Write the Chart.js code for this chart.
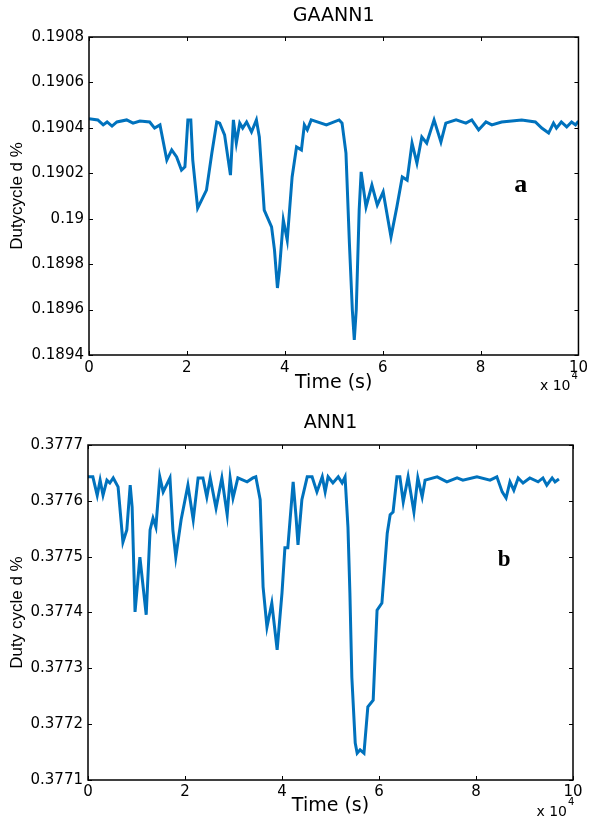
<!DOCTYPE html>
<html><head><meta charset="utf-8">
<script src="https://cdn.jsdelivr.net/npm/chart.js@4.4.0/dist/chart.umd.min.js"></script>
<style>
html,body{margin:0;padding:0;background:#fff;}
#wrap{position:relative;width:592px;height:825px;}
.c{position:absolute;left:0;width:592px;}
</style></head><body>
<div id="wrap">
<div class="c" style="top:0;height:400px"><canvas id="ca"></canvas></div>
<div class="c" style="top:400px;height:425px"><canvas id="cb"></canvas></div>
</div>
<script>
// ---- Data (time in s, duty cycle) ----
const timeA = [0,1800,2900,3700,4700,5700,7700,9000,10400,12400,13400,14500,15900,16900,17900,18900,19600,20200,20800,21200,22200,23200,24000,25100,26100,26700,27700,28900,29500,30100,30800,31400,32200,33200,34200,34800,35800,37300,37900,38500,38900,39700,40500,41500,42400,43400,44000,44600,45400,48500,51100,51700,52500,53200,53800,54200,54600,55200,55600,56600,57800,58900,60100,61700,62900,64000,65000,66000,67000,68000,69000,70500,71900,72900,75000,77000,78200,79600,81100,82300,84300,88400,91200,92500,93900,94900,95500,96500,97600,98600,99400,100000];
const dutyA = [0.19044,0.190435,0.190413,0.190426,0.190408,0.190426,0.190435,0.190421,0.19043,0.190426,0.190399,0.190413,0.190258,0.190303,0.190272,0.190214,0.190228,0.190435,0.190435,0.190258,0.190047,0.190091,0.190126,0.190289,0.190426,0.190421,0.190369,0.190192,0.190435,0.190333,0.190421,0.190399,0.190426,0.190382,0.190435,0.19036,0.190038,0.189964,0.189862,0.189695,0.189774,0.189994,0.189906,0.190184,0.190316,0.190303,0.190413,0.190391,0.190435,0.190413,0.190435,0.190421,0.190289,0.189893,0.189598,0.189466,0.189598,0.190038,0.190206,0.190052,0.190148,0.19006,0.190118,0.18992,0.190052,0.190184,0.19017,0.190333,0.190245,0.19036,0.190333,0.190435,0.190338,0.190421,0.190435,0.190421,0.190435,0.190391,0.190426,0.190413,0.190426,0.190435,0.190426,0.190399,0.190377,0.190421,0.190399,0.190426,0.190404,0.190426,0.190413,0.19043];

const timeB = [0,1000,1900,2500,3100,3900,4500,5200,6200,7200,8000,8700,9100,9700,10700,12000,12800,13400,14000,14800,15500,16900,17500,18100,19200,20600,21700,22700,23700,24500,25200,26400,27600,28700,29300,29900,30900,32800,34000,34600,35500,36100,36900,37900,39000,40000,40600,41200,42300,42900,43300,44100,45200,46200,47200,48300,48900,49500,50500,51600,52400,53000,53600,54000,54400,55100,55500,56100,56900,57700,58800,59600,60600,61700,62300,62900,63700,64300,65000,66000,67200,68000,68900,69500,72000,74000,76100,77300,80200,82900,84300,85400,86200,87000,87800,88700,89700,91100,92800,93800,94600,95700,96300,97100];
const dutyB = [0.377643,0.377643,0.37761,0.377637,0.37761,0.377637,0.377632,0.377641,0.377625,0.377526,0.377548,0.377628,0.377589,0.377401,0.377499,0.377396,0.377548,0.377569,0.377553,0.377643,0.377616,0.377641,0.377548,0.377499,0.377566,0.377628,0.377566,0.377641,0.377641,0.377607,0.377641,0.377587,0.377641,0.377575,0.377641,0.377605,0.377641,0.377634,0.377641,0.377643,0.377602,0.377446,0.377374,0.377417,0.377333,0.377435,0.377516,0.377516,0.377634,0.377571,0.377521,0.377602,0.377643,0.377643,0.377616,0.377643,0.377616,0.377643,0.377632,0.377643,0.377632,0.377643,0.377553,0.377435,0.377284,0.377166,0.377148,0.377154,0.377148,0.377231,0.377243,0.377404,0.377417,0.377542,0.377575,0.37758,0.377643,0.377643,0.377598,0.377643,0.37758,0.377641,0.377607,0.377637,0.377643,0.377634,0.377641,0.377637,0.377643,0.377637,0.377643,0.377616,0.377605,0.377634,0.377619,0.377641,0.377632,0.377641,0.377634,0.377641,0.377628,0.377641,0.377634,0.377639];

const xTicks = [0, 20000, 40000, 60000, 80000, 100000];
const yTicksA = [0.1894, 0.1896, 0.1898, 0.19, 0.1902, 0.1904, 0.1906, 0.1908];
const yTicksB = [0.3771, 0.3772, 0.3773, 0.3774, 0.3775, 0.3776, 0.3777];

const LINE_COLOR = '#0072BD';

function framePlugin(cfg) {
  return {
    id: 'frame_' + cfg.letter,
    afterDatasetsDraw(chart) {
      const ctx = chart.ctx, a = chart.chartArea, x = chart.scales.x, y = chart.scales.y;
      ctx.save();
      ctx.strokeStyle = '#000';
      ctx.lineWidth = 1.5;
      ctx.strokeRect(a.left, a.top, a.right - a.left, a.bottom - a.top);
      ctx.lineWidth = 1;
      const L = 4;
      ctx.beginPath();
      x.ticks.forEach(t => {
        const px = Math.round(x.getPixelForValue(t.value)) + 0.5;
        ctx.moveTo(px, a.bottom); ctx.lineTo(px, a.bottom - L);
        ctx.moveTo(px, a.top); ctx.lineTo(px, a.top + L);
      });
      y.ticks.forEach(t => {
        const py = Math.round(y.getPixelForValue(t.value)) + 0.5;
        ctx.moveTo(a.left, py); ctx.lineTo(a.left + L, py);
        ctx.moveTo(a.right, py); ctx.lineTo(a.right - L, py);
      });
      ctx.stroke();
      ctx.fillStyle = '#000';
      // title
      ctx.font = '19px "DejaVu Sans"';
      ctx.textAlign = 'center';
      ctx.textBaseline = 'middle';
      ctx.fillText(cfg.title, (a.left + a.right) / 2, cfg.titleY);
      // x 10^4 multiplier
      ctx.font = '14px "DejaVu Sans"';
      ctx.textAlign = 'right';
      ctx.fillText('x 10', a.right - cfg.expRight, a.bottom + cfg.expY);
      ctx.font = '10px "DejaVu Sans"';
      ctx.textAlign = 'left';
      ctx.fillText('4', a.right - cfg.expRight + 1, a.bottom + cfg.expY - 10);
      // panel letter
      ctx.font = 'bold ' + cfg.letterSize + 'px "Liberation Serif"';
      ctx.textAlign = 'center';
      ctx.fillText(cfg.letter, a.left + cfg.fx * (a.right - a.left), a.top + cfg.fy * (a.bottom - a.top));
      ctx.restore();
    }
  };
}

function makeChart(id, times, duties, yTicks, opt) {
  const pts = times.map((t, i) => ({x: t, y: duties[i]}));
  return new Chart(document.getElementById(id), {
    type: 'line',
    data: { datasets: [{ data: pts, borderColor: LINE_COLOR, borderWidth: 3, pointRadius: 0, tension: 0, fill: false }] },
    options: {
      responsive: true, maintainAspectRatio: false, animation: false,
      layout: { padding: { top: opt.padTop, right: opt.padRight, left: 0, bottom: 0 } },
      plugins: { legend: { display: false }, tooltip: { enabled: false } },
      scales: {
        x: {
          type: 'linear', min: 0, max: 100000,
          afterBuildTicks: s => { s.ticks = xTicks.map(v => ({value: v})); },
          afterFit: s => { s.height = opt.xHeight; },
          grid: { display: false, drawTicks: false },
          border: { display: false },
          ticks: { color: '#000', padding: opt.xTickPad, maxRotation: 0, font: { family: 'DejaVu Sans', size: 15 },
            callback: v => String(v / 10000) },
          title: { display: true, text: 'Time (s)', color: '#000', font: { family: 'DejaVu Sans', size: 19 }, padding: { top: 0, bottom: opt.xTitlePad } }
        },
        y: {
          type: 'linear', min: yTicks[0], max: yTicks[yTicks.length - 1],
          afterBuildTicks: s => { s.ticks = yTicks.map(v => ({value: v})); },
          afterFit: s => { s.width = opt.yWidth; },
          grid: { display: false, drawTicks: false },
          border: { display: false },
          ticks: { color: '#000', padding: 5, font: { family: 'DejaVu Sans', size: 15 },
            callback: v => String(parseFloat(Number(v).toFixed(4))) },
          title: { display: true, text: opt.yTitle, color: '#000', font: { family: 'Liberation Sans', size: 17 }, padding: { top: 7, bottom: 0 } }
        }
      }
    },
    plugins: [framePlugin(opt)]
  });
}

makeChart('ca', timeA, dutyA, yTicksA, {
  padTop: 37, padRight: 12, xHeight: 45, yWidth: 89, xTickPad: 4, xTitlePad: 6,
  yTitle: 'Dutycycle d %', title: 'GAANN1', titleY: 16,
  expRight: 8, expY: 31, letter: 'a', letterSize: 26, fx: 0.882, fy: 0.465
});
makeChart('cb', timeB, dutyB, yTicksB, {
  padTop: 45, padRight: 19, xHeight: 45, yWidth: 88, xTickPad: 3, xTitlePad: 8,
  yTitle: 'Duty cycle d %', title: 'ANN1', titleY: 23,
  expRight: 6, expY: 32, letter: 'b', letterSize: 23, fx: 0.858, fy: 0.343
});
</script>
</body></html>
